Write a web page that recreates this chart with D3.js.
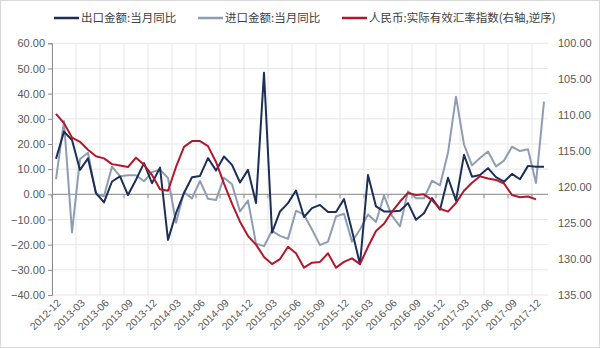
<!DOCTYPE html>
<html><head><meta charset="utf-8">
<script src="https://cdn.jsdelivr.net/npm/d3@7"></script>
<style>body{margin:0;background:#fff}svg{display:block}</style>
</head><body>
<svg id="c" width="600" height="348"></svg>
<script>
const categories = (function(){const a=[];let y=2012,m=12;for(let i=0;i<62;i++){a.push(y+"-"+String(m).padStart(2,"0"));m++;if(m>12){m=1;y++;}}return a;})();
const exportYoY = [14.1,24.9,21.6,9.7,14.3,0.5,-3.2,5.1,7.1,-0.3,5.8,12.4,4.4,10.6,-18.1,-7.5,0.5,6.8,7.3,14.4,9.5,15.0,11.7,4.7,9.7,-3.5,48.3,-15.2,-6.8,-3.5,1.5,-9.0,-5.5,-4.2,-7.0,-7.0,-1.9,-14.5,-27.8,7.7,-4.8,-6.8,-6.8,-6.5,-3.5,-10.1,-7.5,-1.5,-6.1,6.6,-2.5,15.7,7.0,7.7,10.4,6.8,5.0,8.1,6.0,11.3,11.0,11.0];
const importYoY = [6.0,29.0,-15.1,14.0,16.5,0.0,-0.8,11.0,7.2,7.6,7.6,5.2,8.8,9.8,6.5,-11.3,0.8,-1.6,5.3,-1.8,-2.3,6.6,4.0,-6.8,-2.5,-19.6,-20.6,-14.5,-16.5,-17.7,-6.5,-8.1,-14.0,-20.2,-18.8,-8.8,-7.7,-18.8,-14.0,-8.0,-11.0,-0.5,-8.6,-12.7,1.2,-1.6,-1.6,5.4,3.6,16.5,38.8,19.8,11.5,14.4,17.0,11.1,13.4,18.9,17.2,17.9,4.5,36.8];
const reerIndex = [109.8,111.1,113.1,113.7,114.8,115.7,116.0,116.8,117.0,117.2,115.9,116.9,118.3,120.3,120.5,117.2,114.4,113.6,113.6,114.3,116.5,119.5,122.3,124.8,126.8,128.0,129.7,130.7,130.0,128.3,129.2,131.2,130.5,130.4,129.2,131.2,130.4,129.9,130.7,128.3,126.1,125.1,123.4,122.0,120.8,121.1,121.0,121.8,123.0,123.4,122.2,120.5,119.4,118.5,118.8,119.0,119.5,121.1,121.4,121.3,121.7,null];
const leftTicks = [60,50,40,30,20,10,0,-10,-20,-30,-40];
const rightTicks = [100,105,110,115,120,125,130,135];
const xTickLabels = categories.filter((d,i)=>i%3===0);
const seriesNames = ["出口金额:当月同比","进口金额:当月同比","人民币:实际有效汇率指数(右轴,逆序)"];
const seriesColors = ["#1b2f57","#8e9db3","#b2182b"];

const svg = d3.select("#c");
const L=52,R=548,T=43.3,B=295;
const x = d3.scaleBand().domain(categories).range([L,R]);
const yL = d3.scaleLinear().domain([-40,60]).range([B,T]);
const yR = d3.scaleLinear().domain([100,135]).range([T,B]);
const font = "'Liberation Sans', Arial, sans-serif";
const cjk = "'Noto Sans CJK SC', sans-serif";

svg.append("rect").attr("x",0.5).attr("y",0.5).attr("width",599).attr("height",347).attr("fill","#fff").attr("stroke","#d9d9d9");

// grid
svg.append("g").selectAll("line").data(leftTicks).join("line")
  .attr("x1",L).attr("x2",R).attr("y1",d=>yL(d)).attr("y2",d=>yL(d))
  .attr("stroke","#e6e6e6").attr("stroke-width",1);
svg.append("g").selectAll("line").data(xTickLabels).join("line")
  .attr("x1",d=>x(d)).attr("x2",d=>x(d)).attr("y1",T).attr("y2",B)
  .attr("stroke","#e6e6e6").attr("stroke-width",1);

// zero axis with ticks
svg.append("line").attr("x1",L).attr("x2",R).attr("y1",yL(0)).attr("y2",yL(0)).attr("stroke","#8c8c8c").attr("stroke-width",1);
svg.append("g").selectAll("line").data(xTickLabels).join("line")
  .attr("x1",d=>x(d)).attr("x2",d=>x(d)).attr("y1",yL(0)).attr("y2",yL(0)+4)
  .attr("stroke","#8c8c8c");

// left axis
const gl = svg.append("g").attr("transform",`translate(${L},0)`).call(d3.axisLeft(yL).tickValues(leftTicks).tickSize(4).tickFormat(d3.format(".2f")));
gl.select(".domain").attr("stroke","#8c8c8c");
gl.selectAll(".tick line").attr("stroke","#8c8c8c");
gl.selectAll("text").attr("fill","#595959").style("font-family",font).style("font-size","11px").attr("x",-7);

// right axis
const gr = svg.append("g").attr("transform",`translate(${R},0)`).call(d3.axisRight(yR).tickValues(rightTicks).tickSize(0).tickFormat(d3.format(".2f")));
gr.select(".domain").remove();
gr.selectAll("text").attr("fill","#595959").style("font-family",font).style("font-size","11px").attr("x",10);

// x labels
svg.append("g").selectAll("text").data(xTickLabels).join("text")
  .attr("transform",d=>`translate(${x(d)+x.bandwidth()/2+3},${301}) rotate(-45)`)
  .attr("text-anchor","end").attr("dy","0.35em")
  .attr("fill","#595959").style("font-family",font).style("font-size","10.5px").text(d=>d);

// lines
const cx = (i)=>x(categories[i])+x.bandwidth()/2;
const lineL = d3.line().defined(d=>d!=null).x((d,i)=>cx(i)).y(d=>yL(d));
const lineR = d3.line().defined(d=>d!=null).x((d,i)=>cx(i)).y(d=>yR(d));
svg.append("path").datum(importYoY).attr("d",lineL).attr("fill","none").attr("stroke",seriesColors[1]).attr("stroke-width",2).attr("stroke-linejoin","round");
svg.append("path").datum(exportYoY).attr("d",lineL).attr("fill","none").attr("stroke",seriesColors[0]).attr("stroke-width",2).attr("stroke-linejoin","round");
svg.append("path").datum(reerIndex).attr("d",lineR).attr("fill","none").attr("stroke",seriesColors[2]).attr("stroke-width",2).attr("stroke-linejoin","round");

// legend
const legX = [54,198,342];
const lg = svg.append("g");
seriesNames.forEach((n,i)=>{
  lg.append("line").attr("x1",legX[i]).attr("x2",legX[i]+25).attr("y1",18).attr("y2",18).attr("stroke",seriesColors[i]).attr("stroke-width",2.5);
  lg.append("text").attr("x",legX[i]+27).attr("y",18).attr("dy","0.35em").attr("fill","#404040")
    .style("font-family",cjk).style("font-size","11.5px").text(n);
});
</script>
</body></html>
